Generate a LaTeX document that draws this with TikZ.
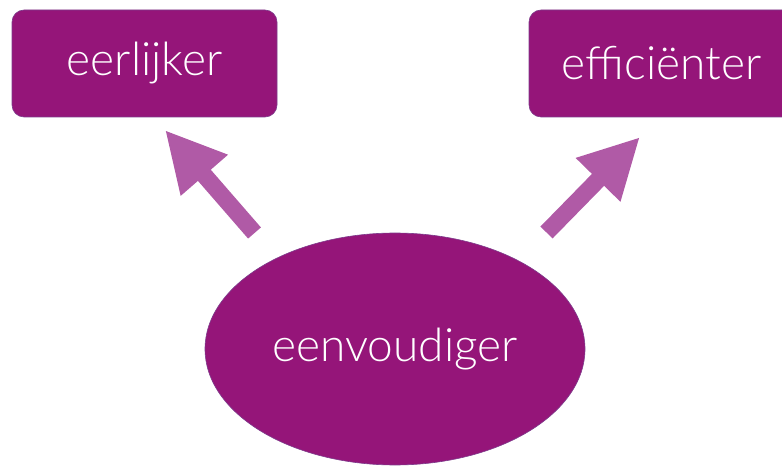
\documentclass[tikz,border=0pt]{standalone}
\usepackage{fontspec}
\setmainfont{Lato Light}
\usetikzlibrary{arrows.meta,positioning,shapes.geometric}

\definecolor{paars}{HTML}{951579}
\definecolor{paarsrand}{HTML}{7E3C8C}
\definecolor{lichtpaars}{HTML}{B05AA6}

\begin{document}
\begin{tikzpicture}[x=1pt, y=1pt, >=Triangle]
		\tikzset{
			blok/.style={draw=paarsrand, line width=0.6pt, fill=paars, rounded corners=12pt,
				minimum width=265pt, minimum height=107pt, text=white, font=\fontsize{46}{50}\selectfont},
			ovaal/.style={ellipse, draw=paarsrand, line width=0.6pt, fill=paars, inner sep=0pt,
				minimum width=380pt, minimum height=232pt, text=white, font=\fontsize{46}{50}\selectfont},
			pijl/.style={draw=lichtpaars, line width=17pt, -{Triangle[width=58pt, length=60pt]}}
		}
		% Kader
		\useasboundingbox (0, 0) rectangle (782, 469);

		% Blokken
		\node[blok] (eerlijk) at (144.5, 405.5) {eerlijker};
		\node[blok] (efficient) at (661.5, 405.5) {efficiënter};
		\node[ovaal] (eenvoud) at (395, 120) {eenvoudiger};

		% Pijlen
		\coordinate (staartL) at (254.5, 236);
		\coordinate (puntL) at (165, 339);
		\coordinate (staartR) at (546.5, 236.5);
		\coordinate (puntR) at (640, 332);
		\draw[pijl] (staartL) -- (puntL);
		\draw[pijl] (staartR) -- (puntR);

	\end{tikzpicture}
\end{document}
